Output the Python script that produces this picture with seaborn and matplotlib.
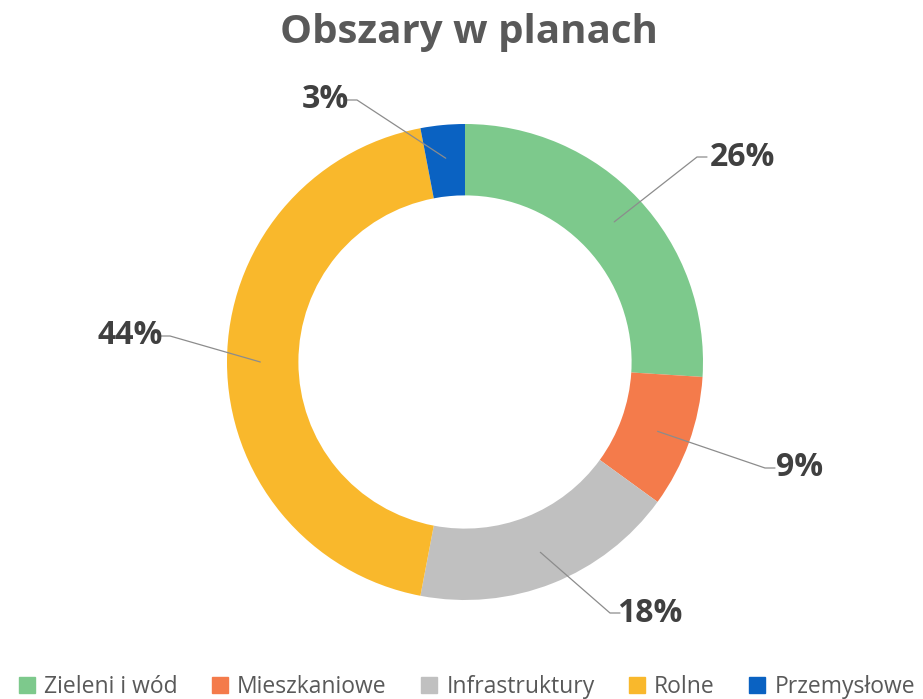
import numpy as np
import matplotlib
matplotlib.use("Agg")
import matplotlib.pyplot as plt
import seaborn as sns

# data
categories = ['Zieleni i wód', 'Mieszkaniowe', 'Infrastruktury', 'Rolne', 'Przemysłowe']
shares = [26, 9, 18, 44, 3]
colors = ['#7DC98C', '#F47B4B', '#C0C0C0', '#F9B82C', '#0A62C2']

sns.set_theme(style="white")
plt.rcParams['font.family'] = ['Open Sans', 'DejaVu Sans']

W, H, dpi = 923, 699, 100
cx, cy, R = 465, 362, 238  # donut centre and outer radius in pixels

fig = plt.figure(figsize=(W / dpi, H / dpi), dpi=dpi)
ax = fig.add_axes([0, 0, 1, 1])

wedges, _ = ax.pie(shares, colors=colors, startangle=90, counterclock=False,
                   radius=1.0, wedgeprops=dict(width=0.3, edgecolor='none'))
ax.set_aspect('auto')
ax.set_xlim(-cx / R, (W - cx) / R)
ax.set_ylim((cy - H) / R, cy / R)
ax.axis('off')

# label positions (pixels) and leader elbow offsets
label_px = [(742, 157), (800, 468), (650, 613), (130, 336), (325, 100)]
elbow_px = [(-45, 0), (-35, 0), (-40, 0), (40, 0), (32, 0)]

cum = np.cumsum([0] + shares[:-1])
for i, (s, c0) in enumerate(zip(shares, cum)):
    mid = np.deg2rad(90 - 360 * (c0 + s / 2) / sum(shares))
    ax_x, ax_y = 0.86 * np.cos(mid), 0.86 * np.sin(mid)
    lx, ly = label_px[i]
    ex, ey = lx + elbow_px[i][0], ly + elbow_px[i][1]
    ex2 = ex + (10 if elbow_px[i][0] < 0 else -10)
    ax.plot([ax_x, (ex - cx) / R, (ex2 - cx) / R],
            [ax_y, (cy - ey) / R, (cy - ey) / R],
            color='#8C8C8C', lw=0.9)
    ax.text((lx - cx) / R, (cy - ly) / R, f'{s}%', ha='center', va='center',
            fontsize=23, fontweight='bold', color='#404040')

fig.text(469 / W, 1 - 32 / H, 'Obszary w planach', ha='center', va='center',
         fontsize=29, fontweight='bold', color='#595959')

handles = [plt.Rectangle((0, 0), 1, 1, color=c) for c in colors]
fig.legend(handles, categories, loc='lower left', bbox_to_anchor=(-0.002, -0.03),
           ncol=5, frameon=False, fontsize=16.5, handlelength=0.7, handleheight=0.7,
           handletextpad=0.4, columnspacing=1.5, labelcolor='#595959')

fig.savefig('out.png', dpi=dpi)
